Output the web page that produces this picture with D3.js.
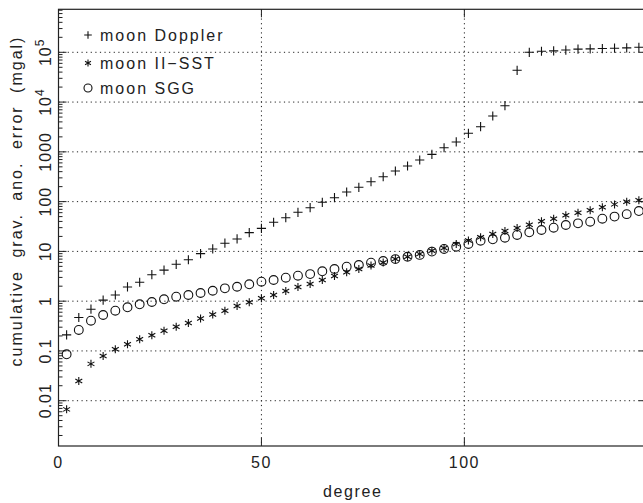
<!DOCTYPE html>
<html>
<head>
<meta charset="utf-8">
<style>
body { margin: 0; background: #fff; }
text { font-family: "Liberation Sans", Arial, sans-serif; fill: #222; }
.grid line { stroke: #222; stroke-width: 1; stroke-dasharray: 1.2,3.4; }
.frame { fill: none; stroke: #222; stroke-width: 1.2; }
.tick { stroke: #222; stroke-width: 1; }
.mark { fill: none; stroke: #111; stroke-width: 1.1; }
</style>
</head>
<body>
<svg width="643" height="503"></svg>
<script src="https://cdn.jsdelivr.net/npm/d3@7"></script>
<script>

// spherical harmonic degree of each plotted point
var degrees = [2, 5, 8, 11, 14, 17, 20, 23, 26, 29, 32, 35, 38, 41, 44, 47, 50,
  53, 56, 59, 62, 65, 68, 71, 74, 77, 80, 83, 86, 89, 92, 95, 98, 101,
  104, 107, 110, 113, 116, 119, 122, 125, 128, 131, 134, 137, 140, 143];

// cumulative gravity anomaly error (mgal)
var doppler = [0.21, 0.47, 0.69, 1.05, 1.33, 1.93, 2.4, 3.4, 4.2, 5.5, 6.8, 9.0, 11.2, 14.6, 17.8, 23.8, 29,
  38.5, 47.5, 61, 75.5, 97, 120, 156, 194, 251, 316, 412, 520, 686, 891, 1210, 1580, 2360,
  3200, 5250, 8450, 43500, 100000, 105000, 107000, 111000, 116000, 117000, 119000, 121000, 123000, 126000];

var sst = [0.0067, 0.025, 0.055, 0.079, 0.108, 0.136, 0.171, 0.206, 0.255, 0.305, 0.365, 0.45, 0.54, 0.64, 0.8, 0.95, 1.14,
  1.33, 1.6, 1.93, 2.21, 2.66, 3.2, 3.8, 4.43, 5.2, 6.0, 7.0, 7.8, 8.9, 10.3, 11.7, 14.0, 16.5,
  19.2, 22.4, 25.7, 29.5, 34.4, 40.3, 45.4, 53, 60, 67, 77, 88, 99.6, 107];

var sgg = [0.0855, 0.264, 0.405, 0.527, 0.643, 0.753, 0.865, 0.962, 1.09, 1.23, 1.33, 1.46, 1.62, 1.81, 1.95, 2.18, 2.46,
  2.66, 2.96, 3.25, 3.5, 3.98, 4.43, 4.93, 5.33, 5.93, 6.4, 7.0, 7.8, 8.5, 9.9, 11.2, 12.4, 14.1,
  16.4, 17.5, 18.8, 21.4, 24.2, 26.9, 29.9, 33.9, 36.6, 39.5, 45.4, 50, 56, 64.6];

var xTicks = [0, 50, 100];
var yTicks = [0.01, 0.1, 1, 10, 100, 1000, 1e4, 1e5];
var yTickLabels = ["0.01", "0.1", "1", "10", "100", "1000", "10^4", "10^5"];
var legendNames = ["moon Doppler", "moon II\u2212SST", "moon SGG"];

var svg = d3.select("svg"),
    plotL = 58.5, plotR = 647, plotT = 9.3, plotB = 446;

var x = d3.scaleLinear().domain([0, 145]).range([plotL, plotR]);
var y = d3.scaleLog().domain([Math.pow(10, -2.91), Math.pow(10, 5.864)]).range([plotB, plotT]);

// dotted grid
var grid = svg.append("g").attr("class", "grid");
grid.selectAll(".gy").data(yTicks).enter().append("line")
    .attr("x1", plotL).attr("x2", plotR)
    .attr("y1", function(d) { return y(d); }).attr("y2", function(d) { return y(d); });
grid.selectAll(".gx").data(xTicks.slice(1)).enter().append("line")
    .attr("y1", plotT).attr("y2", plotB)
    .attr("x1", function(d) { return x(d); }).attr("x2", function(d) { return x(d); });

// frame
svg.append("rect").attr("class", "frame")
    .attr("x", plotL).attr("y", plotT)
    .attr("width", plotR - plotL).attr("height", plotB - plotT);

// major and minor ticks, all pointing inward
var ticks = svg.append("g");
var minor = [];
for (var k = -3; k <= 5; k++) {
  for (var m = 2; m <= 9; m++) {
    var v = m * Math.pow(10, k);
    if (v > y.domain()[0] && v < y.domain()[1]) minor.push(v);
  }
}
yTicks.forEach(function(d) {
  ticks.append("line").attr("class", "tick").attr("x1", plotL).attr("x2", plotL + 8).attr("y1", y(d)).attr("y2", y(d));
  ticks.append("line").attr("class", "tick").attr("x1", plotR).attr("x2", plotR - 8).attr("y1", y(d)).attr("y2", y(d));
});
minor.forEach(function(d) {
  ticks.append("line").attr("class", "tick").attr("x1", plotL).attr("x2", plotL + 4).attr("y1", y(d)).attr("y2", y(d));
  ticks.append("line").attr("class", "tick").attr("x1", plotR).attr("x2", plotR - 4).attr("y1", y(d)).attr("y2", y(d));
});
xTicks.slice(1).forEach(function(d) {
  ticks.append("line").attr("class", "tick").attr("x1", x(d)).attr("x2", x(d)).attr("y1", plotB).attr("y2", plotB - 8);
  ticks.append("line").attr("class", "tick").attr("x1", x(d)).attr("x2", x(d)).attr("y1", plotT).attr("y2", plotT + 8);
});

// x tick labels
svg.selectAll(".xl").data(xTicks).enter().append("text")
    .attr("x", function(d) { return x(d); })
    .attr("y", 468)
    .attr("text-anchor", "middle")
    .style("font-size", "16px").style("letter-spacing", "1.5px")
    .text(function(d) { return d; });

// y tick labels, rotated
yTicks.forEach(function(d, i) {
  var t = svg.append("text")
      .attr("transform", "translate(51," + y(d) + ") rotate(-90)")
      .attr("text-anchor", "middle")
      .style("font-size", "16px").style("letter-spacing", "1px");
  var lab = yTickLabels[i];
  if (lab.indexOf("^") > 0) {
    var p = lab.split("^");
    t.append("tspan").text(p[0]);
    t.append("tspan").attr("dy", -7).style("font-size", "12px").text(p[1]);
  } else {
    t.text(lab);
  }
});

// axis titles
svg.append("text")
    .attr("x", 352.8).attr("y", 497)
    .attr("text-anchor", "middle")
    .style("font-size", "16px").style("letter-spacing", "1.6px")
    .text("degree");

svg.append("text")
    .attr("transform", "translate(22,201) rotate(-90)")
    .attr("text-anchor", "middle")
    .style("font-size", "16px").style("letter-spacing", "2px").style("word-spacing", "6px")
    .text("cumulative grav. ano. error (mgal)");

// marker shapes
function plus(s) { return "M" + (-s) + ",0H" + s + "M0," + (-s) + "V" + s; }
function star(s) {
  var a = s * Math.cos(Math.PI / 6), b = s * Math.sin(Math.PI / 6);
  return "M0," + (-s) + "V" + s + "M" + (-a) + "," + (-b) + "L" + a + "," + b + "M" + (-a) + "," + b + "L" + a + "," + (-b);
}

var marks = svg.append("g");

marks.selectAll(".dop").data(doppler).enter().append("path")
    .attr("class", "mark")
    .attr("transform", function(d, i) { return "translate(" + x(degrees[i]) + "," + y(d) + ")"; })
    .attr("d", plus(4.6));

marks.selectAll(".sst").data(sst).enter().append("path")
    .attr("class", "mark")
    .attr("transform", function(d, i) { return "translate(" + x(degrees[i]) + "," + y(d) + ")"; })
    .attr("d", star(4));

marks.selectAll(".sgg").data(sgg).enter().append("circle")
    .attr("class", "mark")
    .attr("cx", function(d, i) { return x(degrees[i]); })
    .attr("cy", function(d) { return y(d); })
    .attr("r", 4.4);

// legend
var legend = svg.append("g");
var rowY = [35, 63, 88];
legendNames.forEach(function(name, i) {
  var g = legend.append("g").attr("transform", "translate(88," + rowY[i] + ")");
  if (i === 0) g.append("path").attr("class", "mark").attr("d", plus(3.8));
  if (i === 1) g.append("path").attr("class", "mark").attr("d", star(3.4));
  if (i === 2) g.append("circle").attr("class", "mark").attr("r", 4);
  g.append("text")
      .attr("x", 12).attr("y", 5.5)
      .style("font-size", "16px").style("letter-spacing", "2px")
      .text(name);
});

</script>
</body>
</html>
